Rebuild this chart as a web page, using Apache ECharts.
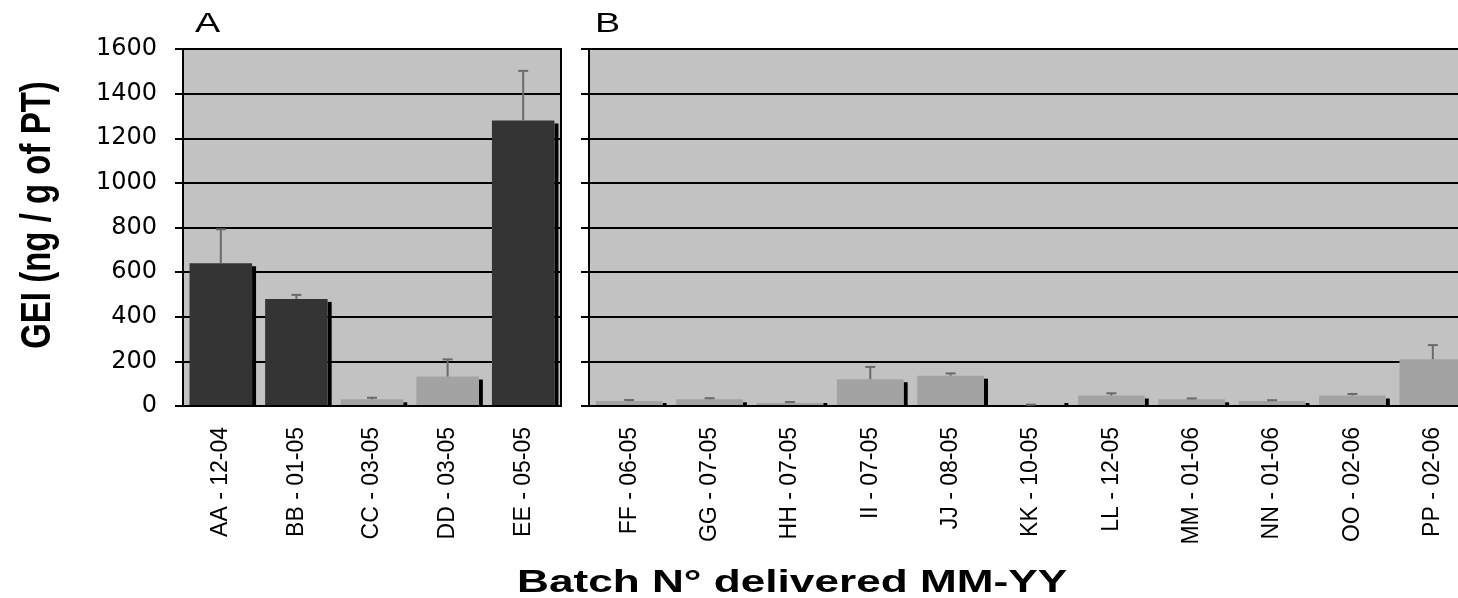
<!DOCTYPE html>
<html>
<head>
<meta charset="utf-8">
<script src="https://cdn.jsdelivr.net/npm/echarts@6/dist/echarts.min.js"></script>
<style>
  html, body { margin: 0; padding: 0; background: #ffffff; }
  #chart { width: 1458px; height: 598px; }
</style>
</head>
<body>
<div id="chart"></div>
<script>
// Panel A: first batches
const batchesA = ['AA - 12-04', 'BB - 01-05', 'CC - 03-05', 'DD - 03-05', 'EE - 05-05'];
const geiA = [640, 480, 30, 132, 1280];
const sdA = [152, 18, 7, 77, 222];
const levelA = ['high', 'high', 'low', 'low', 'high'];

// Panel B: later batches
const batchesB = ['FF - 06-05', 'GG - 07-05', 'HH - 07-05', 'II - 07-05', 'JJ - 08-05', 'KK - 10-05',
  'LL - 12-05', 'MM - 01-06', 'NN - 01-06', 'OO - 02-06', 'PP - 02-06'];
const geiB = [22, 30, 14, 120, 136, 3, 47, 30, 22, 47, 210];
const sdB = [5, 5, 4, 55, 10, 3, 10, 4, 4, 7, 63];
const levelB = ['low', 'low', 'low', 'low', 'low', 'low', 'low', 'low', 'low', 'low', 'low'];

// Value axis
const yMin = 0;
const yMax = 1600;
const yStep = 200;

const panelTitles = ['A', 'B'];
const yTitle = 'GEI (ng / g of PT)';
const xTitle = 'Batch N° delivered MM-YY';

const DARK = '#343434';
const LIGHT = '#a3a3a3';
const PANEL_BG = '#c2c2c2';
const ERR = '#6a6a6a';

function rows(values, errors, levels) {
  return values.map((v, i) => [i, v, errors[i], levels[i] === 'high' ? 1 : 0]);
}

// Bar with a thin dark side strip and an upper error whisker
function barWithError(frac) {
  return function (params, api) {
    const i = api.value(0);
    const v = api.value(1);
    const e = api.value(2);
    const high = api.value(3);
    const band = api.size([1, 0])[0];
    const w = band * frac;
    const base = api.coord([i, 0]);
    const top = api.coord([i, v]);
    const cap = api.coord([i, v + e]);
    const stripW = 4;
    const faceW = w - stripW;
    const x0 = base[0] - w / 2 + 2;
    const y0 = base[1] - 1;
    const cx = x0 + faceW / 2;
    const sy = Math.min(top[1] + 3, y0 - 2);
    return {
      type: 'group',
      children: [
        { type: 'rect', shape: { x: x0 + faceW, y: sy, width: stripW, height: y0 - sy },
          style: { fill: '#000000' } },
        { type: 'rect', shape: { x: x0, y: top[1], width: faceW, height: Math.max(y0 - top[1], 0) },
          style: { fill: high ? DARK : LIGHT } },
        { type: 'line', shape: { x1: cx, y1: top[1], x2: cx, y2: cap[1] },
          style: { stroke: ERR, lineWidth: 2 } },
        { type: 'line', shape: { x1: cx - 5, y1: cap[1], x2: cx + 5, y2: cap[1] },
          style: { stroke: ERR, lineWidth: 2 } }
      ]
    };
  };
}

function valueAxis(gridIndex, withLabels) {
  return {
    type: 'value', gridIndex: gridIndex, min: yMin, max: yMax, interval: yStep,
    axisLine: { show: true, lineStyle: { color: '#000', width: 2 } },
    axisTick: { show: true, length: 8, lineStyle: { color: '#000', width: 2 } },
    axisLabel: { show: withLabels, fontFamily: 'DejaVu Sans', fontSize: 24, margin: 26,
      color: '#000', formatter: (v) => String(v) },
    splitLine: { show: true, lineStyle: { color: '#000', width: 2 } }
  };
}

function categoryAxis(gridIndex, cats) {
  return {
    type: 'category', gridIndex: gridIndex, data: cats, boundaryGap: true,
    axisLine: { show: true, lineStyle: { color: '#000', width: 2 } },
    axisTick: { show: false },
    axisLabel: { rotate: 90, fontFamily: 'Liberation Sans', fontSize: 23, margin: 21,
      interval: 0, color: '#000' }
  };
}

const chart = echarts.init(document.getElementById('chart'), null, { renderer: 'canvas' });

chart.setOption({
  animation: false,
  backgroundColor: '#ffffff',
  grid: [
    { left: 183, top: 49, width: 378, height: 357, show: true, outerBoundsMode: 'none',
      containLabel: false, backgroundColor: PANEL_BG, borderColor: '#000', borderWidth: 2 },
    { left: 589, top: 49, width: 884, height: 357, show: true, outerBoundsMode: 'none',
      containLabel: false, backgroundColor: PANEL_BG, borderColor: '#000', borderWidth: 2 }
  ],
  xAxis: [categoryAxis(0, batchesA), categoryAxis(1, batchesB)],
  yAxis: [valueAxis(0, true), valueAxis(1, false)],
  graphic: [
    { type: 'text', x: 195, y: 25, scaleX: 1.4,
      style: { text: panelTitles[0], fontFamily: 'Liberation Sans', fontSize: 27, fill: '#000', verticalAlign: 'middle' } },
    { type: 'text', x: 595, y: 25, scaleX: 1.4,
      style: { text: panelTitles[1], fontFamily: 'Liberation Sans', fontSize: 27, fill: '#000', verticalAlign: 'middle' } },
    // vertical axis title, reads bottom to top
    { type: 'text', x: 38, y: 215, rotation: Math.PI / 2, scaleY: 1.3,
      style: { text: yTitle, fontFamily: 'Liberation Sans', fontWeight: 'bold', fontSize: 33,
        fill: '#000', align: 'center', verticalAlign: 'middle' } },
    { type: 'text', x: 517, y: 583, scaleX: 1.38,
      style: { text: xTitle, fontFamily: 'Liberation Sans', fontWeight: 'bold', fontSize: 32,
        fill: '#000', align: 'left', verticalAlign: 'middle' } }
  ],
  series: [
    { type: 'custom', xAxisIndex: 0, yAxisIndex: 0, renderItem: barWithError(0.88),
      encode: { x: 0, y: 1 }, data: rows(geiA, sdA, levelA), clip: false },
    { type: 'custom', xAxisIndex: 1, yAxisIndex: 1, renderItem: barWithError(0.88),
      encode: { x: 0, y: 1 }, data: rows(geiB, sdB, levelB), clip: false }
  ]
});
</script>
</body>
</html>
